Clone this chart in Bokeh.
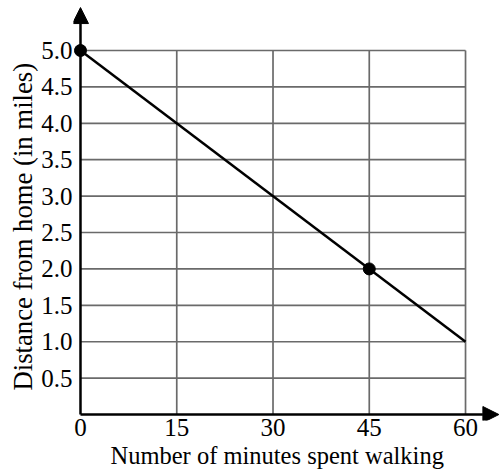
from bokeh.plotting import figure
from bokeh.models import FixedTicker, NumeralTickFormatter, Arrow, NormalHead, Range1d, Title
from bokeh.embed import file_html
from bokeh.resources import INLINE

# Data
minutes = [0, 60]
distance = [5.0, 1.0]
pt_minutes = [0, 45]
pt_distance = [5.0, 2.0]
x_ticks = [0, 15, 30, 45, 60]
y_ticks = [0.5, 1.0, 1.5, 2.0, 2.5, 3.0, 3.5, 4.0, 4.5, 5.0]
x_max, y_max = 60, 5.0
x_title = "Number of minutes spent walking"
y_title = "Distance from home (in miles)"

FONT = "Liberation Serif"
X0, X1 = -1.09, 65.45
Y0, Y1 = -0.082, 5.687
X_ARROW, Y_ARROW = 65.2, 5.59

p = figure(width=500, height=474, output_backend="svg", toolbar_location=None,
           x_range=Range1d(X0, X1), y_range=Range1d(Y0, Y1),
           min_border_left=73, min_border_right=0, min_border_top=0, min_border_bottom=54)
p.outline_line_color = None
p.xgrid.visible = False
p.ygrid.visible = False

# grid lines limited to data box
p.segment(x0=[x for x in x_ticks if x > 0], y0=0, x1=[x for x in x_ticks if x > 0], y1=y_max,
          line_color="#6a6a6a", line_width=1.7)
p.segment(x0=0, y0=y_ticks, x1=x_max, y1=y_ticks, line_color="#6a6a6a", line_width=1.7)

# axes with arrows
p.add_layout(Arrow(end=NormalHead(size=16, fill_color="black", line_color="black"),
                   x_start=0, y_start=0, x_end=X_ARROW, y_end=0, line_width=2.5, line_color="black"))
p.add_layout(Arrow(end=NormalHead(size=16, fill_color="black", line_color="black"),
                   x_start=0, y_start=0, x_end=0, y_end=Y_ARROW, line_width=2.5, line_color="black"))

p.line(minutes, distance, line_color="black", line_width=2.5)
p.scatter(pt_minutes, pt_distance, size=12, color="black")

for ax in (p.xaxis[0], p.yaxis[0]):
    ax.axis_line_color = None
    ax.major_tick_line_color = None
    ax.minor_tick_line_color = None
    ax.major_tick_out = 0
    ax.major_tick_in = 0
    ax.minor_tick_out = 0
    ax.major_label_text_font = FONT
    ax.major_label_text_font_size = "25px"
    ax.major_label_text_color = "black"

p.xaxis.ticker = FixedTicker(ticks=x_ticks)
p.yaxis.ticker = FixedTicker(ticks=y_ticks)
p.yaxis.formatter = NumeralTickFormatter(format="0.0")
p.xaxis.major_label_standoff = -2
p.yaxis.major_label_standoff = 1

p.add_layout(Title(text=x_title, align="left", offset=37, standoff=2,
                   text_font=FONT, text_font_size="24.5px", text_font_style="normal",
                   text_color="black"), "below")
p.add_layout(Title(text=y_title, align="left", offset=30, standoff=2,
                   text_font=FONT, text_font_size="26.7px", text_font_style="normal",
                   text_color="black"), "left")

open("out.html", "w").write(file_html(p, INLINE))
